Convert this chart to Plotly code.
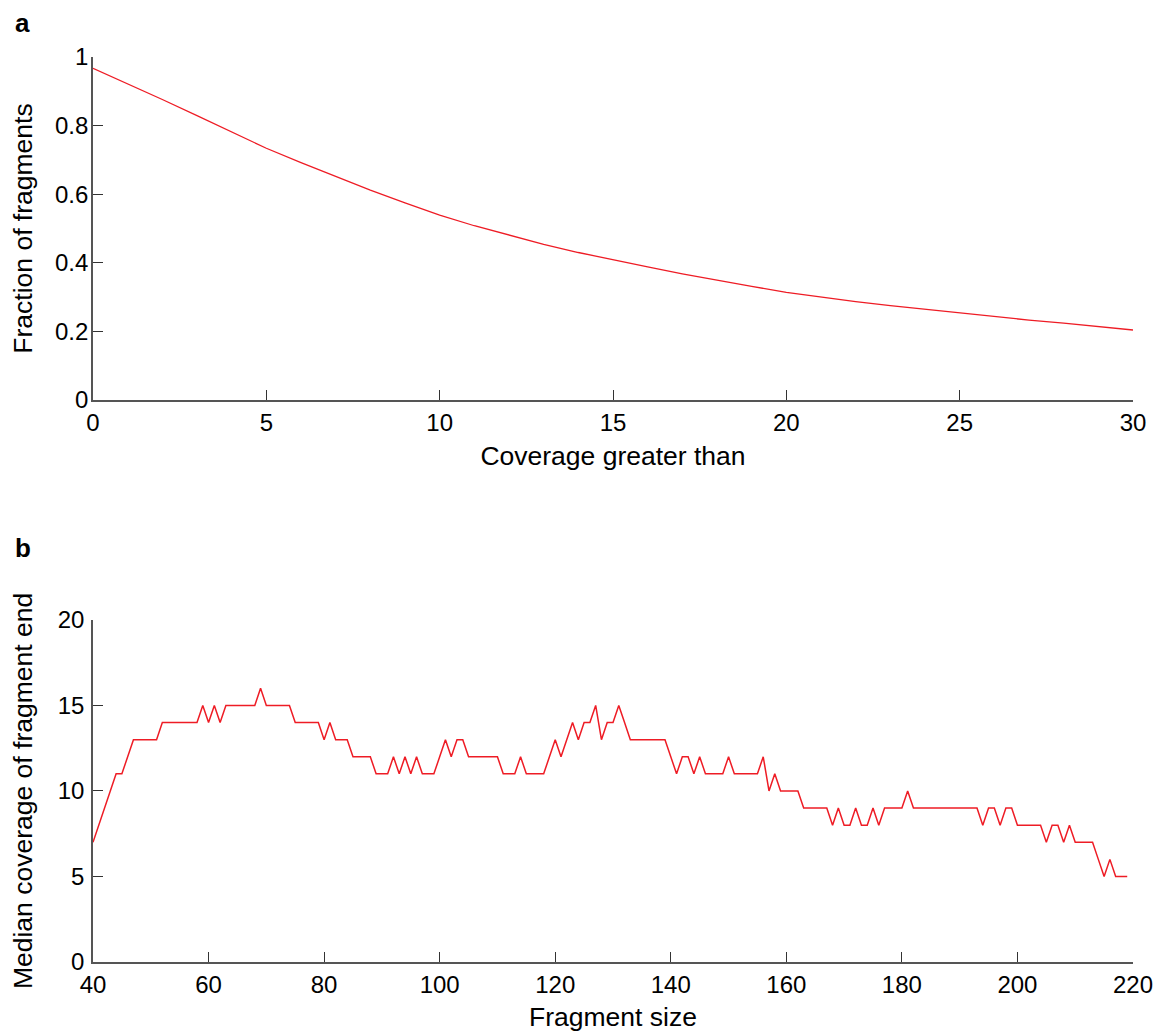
import plotly.graph_objects as go

# Panel a: fraction of fragments vs coverage threshold
coverage = list(range(0, 31))
fraction = [0.967, 0.922, 0.876, 0.829, 0.781, 0.734, 0.692, 0.651, 0.612, 0.575,
            0.539, 0.508, 0.480, 0.454, 0.430, 0.408, 0.388, 0.368, 0.349, 0.331,
            0.314, 0.300, 0.287, 0.275, 0.264, 0.253, 0.243, 0.233, 0.224, 0.214,
            0.204]

# Panel b: median coverage of fragment end vs fragment size
frag_size = list(range(40, 220))
median_cov = [
    7, 8, 9, 10, 11, 11, 12, 13, 13, 13,          # 40-49
    13, 13, 14, 14, 14, 14, 14, 14, 14, 15,       # 50-59
    14, 15, 14, 15, 15, 15, 15, 15, 15, 16,       # 60-69
    15, 15, 15, 15, 15, 14, 14, 14, 14, 14,       # 70-79
    13, 14, 13, 13, 13, 12, 12, 12, 12, 11,       # 80-89
    11, 11, 12, 11, 12, 11, 12, 11, 11, 11,       # 90-99
    12, 13, 12, 13, 13, 12, 12, 12, 12, 12,       # 100-109
    12, 11, 11, 11, 12, 11, 11, 11, 11, 12,       # 110-119
    13, 12, 13, 14, 13, 14, 14, 15, 13, 14,       # 120-129
    14, 15, 14, 13, 13, 13, 13, 13, 13, 13,       # 130-139
    12, 11, 12, 12, 11, 12, 11, 11, 11, 11,       # 140-149
    12, 11, 11, 11, 11, 11, 12, 10, 11, 10,       # 150-159
    10, 10, 10, 9, 9, 9, 9, 9, 8, 9,              # 160-169
    8, 8, 9, 8, 8, 9, 8, 9, 9, 9,                 # 170-179
    9, 10, 9, 9, 9, 9, 9, 9, 9, 9,                # 180-189
    9, 9, 9, 9, 8, 9, 9, 8, 9, 9,                 # 190-199
    8, 8, 8, 8, 8, 7, 8, 8, 7, 8,                 # 200-209
    7, 7, 7, 7, 6, 5, 6, 5, 5, 5,                 # 210-219
]

xa_ticks = [0, 5, 10, 15, 20, 25, 30]
ya_ticks = [0, 0.2, 0.4, 0.6, 0.8, 1]
ya_labels = ["0", "0.2", "0.4", "0.6", "0.8", "1"]
xb_ticks = [40, 60, 80, 100, 120, 140, 160, 180, 200, 220]
yb_ticks = [0, 5, 10, 15, 20]

FONT = "Liberation Sans, Arial, Helvetica, sans-serif"
RED = "#ee1c25"
AXC = "#555555"

fig = go.Figure()
fig.add_trace(go.Scatter(x=coverage, y=fraction, mode="lines",
                         line=dict(color=RED, width=1.3), xaxis="x", yaxis="y",
                         showlegend=False, hoverinfo="x+y"))
fig.add_trace(go.Scatter(x=frag_size, y=median_cov, mode="lines",
                         line=dict(color=RED, width=1.5), xaxis="x2", yaxis="y2",
                         showlegend=False, hoverinfo="x+y"))

common = dict(showgrid=False, zeroline=False, showline=True, linecolor=AXC,
              linewidth=1.6, ticks="inside", ticklen=10, tickwidth=1.2,
              tickcolor="#333333", tickfont=dict(size=24, color="black", family=FONT),
              title_font=dict(size=26.5, color="black", family=FONT))

ML, MR, MT, MB = 85, 36, 49, 80
W, H = 1161, 1034

fig.update_layout(
    width=W, height=H,
    margin=dict(l=ML, r=MR, t=MT, b=MB),
    paper_bgcolor="white", plot_bgcolor="white",
    font=dict(family=FONT, color="black"),
    xaxis=dict(domain=[0, 1], range=[0, 30], tickvals=xa_ticks, anchor="y",
               ticklabelstandoff=0,
               title=dict(text="Coverage greater than", standoff=12), **common),
    yaxis=dict(domain=[0.621, 1], range=[0, 1], tickvals=ya_ticks, ticktext=ya_labels,
               anchor="x", ticklabelstandoff=-2,
               title=dict(text="Fraction of fragments", standoff=17), **common),
    xaxis2=dict(domain=[0, 1], range=[40, 220], tickvals=xb_ticks, anchor="y2",
                ticklabelstandoff=0,
                title=dict(text="Fragment size", standoff=11), **common),
    yaxis2=dict(domain=[0, 0.378], range=[0, 20], tickvals=yb_ticks, anchor="x2",
                ticklabelstandoff=2,
                title=dict(text="Median coverage of fragment end", standoff=19), **common),
)

# panel letters, positioned in figure pixels and converted to paper coords
W_plot = W - ML - MR
H_plot = H - MT - MB
for letter, px, py in [("a", 5, 15), ("b", 5, 540)]:
    fig.add_annotation(text=f"<b>{letter}</b>", xref="paper", yref="paper",
                       x=(px - ML) / W_plot, y=(H - MB - py) / H_plot,
                       showarrow=False, xanchor="left", yanchor="middle",
                       font=dict(size=26, family=FONT, color="black"))

fig.write_html("out.html")
